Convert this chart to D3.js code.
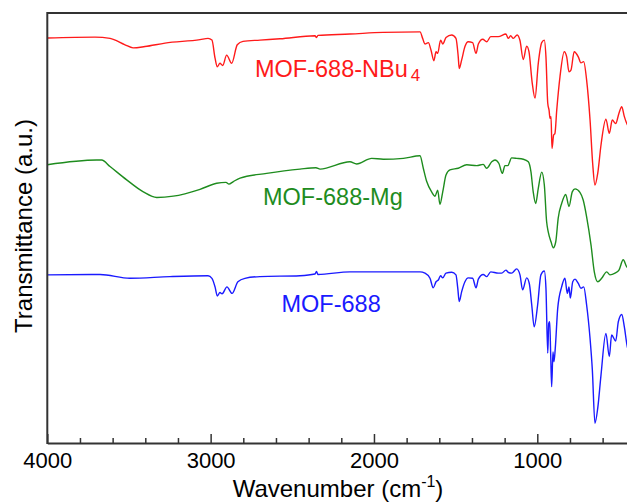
<!DOCTYPE html>
<html>
<head>
<meta charset="utf-8">
<script src="https://cdn.jsdelivr.net/npm/d3@7"></script>
<style>
  html, body { margin: 0; padding: 0; background: #fff; overflow: hidden; }
  svg { display: block; font-family: "Liberation Sans", Arial, Helvetica, sans-serif; }
</style>
</head>
<body>
<svg id="chart" width="627" height="502"></svg>
<script>
// ---- Data (wavenumber cm^-1, transmittance a.u. with vertical offsets) ----
const majorTicks = [4000, 3000, 2000, 1000];
const minorTicks = [3800, 3600, 3400, 3200, 2800, 2600, 2400, 2200, 1800, 1600, 1400, 1200, 800, 600];

const seriesNames = ["MOF-688-NBu4", "MOF-688-Mg", "MOF-688"];

const nbu4 = [
  [4000,94.2],[3708,94.4],[3616,94.1],[3524,92.6],[3475,91.9],[3402,92.2],[3279,93.0],[3065,93.8],
  [3016,94.1],[2992,93.7],[2973,89.5],[2959,87.5],[2943,88.3],[2926,87.8],[2902,90.2],[2871,88.3],
  [2837,92.6],[2802,93.4],[2698,93.7],[2575,94.0],[2361,94.7],[2352,94.3],[2343,94.8],[2147,95.1],
  [1945,95.5],[1718,95.6],[1702,94.1],[1688,92.8],[1667,93.1],[1651,91.4],[1633,88.9],[1620,91.0],
  [1610,90.6],[1592,93.7],[1579,92.8],[1559,94.3],[1524,94.9],[1498,94.1],[1484,89.8],[1478,87.1],
  [1463,89.1],[1443,92.2],[1423,93.3],[1396,93.1],[1375,90.6],[1361,92.8],[1334,93.9],[1310,93.3],
  [1285,94.5],[1239,94.5],[1192,95.1],[1178,94.1],[1163,94.7],[1147,94.1],[1123,94.9],[1106,93.6],
  [1086,89.2],[1065,92.3],[1051,91.0],[1031,83.7],[1014,80.2],[994,88.3],[973,93.1],[957,93.7],
  [947,89.8],[936,79.0],[928,77.4],[922,75.5],[916,75.9],[910,68.5],[900,71.6],[892,72.0],
  [881,77.4],[861,85.2],[835,91.0],[820,89.8],[806,86.3],[794,86.7],[774,91.0],[749,89.8],
  [733,88.4],[716,88.7],[698,84.4],[677,75.1],[661,65.0],[647,60.0],[630,62.7],[610,69.3],
  [580,75.3],[559,72.0],[541,75.1],[520,74.3],[500,76.7],[483,78.2],[467,75.9],[451,74.2],[440,73.5]
];

const mg = [
  [4000,64.7],[3698,65.8],[3667,65.8],[3616,64.3],[3514,61.2],[3412,58.4],[3330,57.1],[3229,57.4],
  [3065,59.0],[2963,60.4],[2906,60.6],[2888,60.2],[2861,60.8],[2820,61.6],[2657,62.7],[2453,63.7],
  [2355,64.0],[2330,63.7],[2147,65.4],[2106,64.9],[2014,66.2],[1943,66.0],[1820,66.2],[1718,66.8],
  [1698,63.9],[1677,60.8],[1647,58.4],[1626,57.4],[1610,58.8],[1596,55.5],[1579,58.4],[1559,62.3],
  [1535,63.5],[1484,63.9],[1432,64.7],[1371,64.5],[1331,64.8],[1310,63.9],[1279,65.4],[1259,65.8],
  [1235,65.0],[1214,62.7],[1198,64.5],[1181,64.5],[1157,66.3],[1126,66.2],[1086,66.0],[1055,65.4],
  [1039,63.1],[1025,58.4],[1010,55.7],[994,59.2],[973,63.0],[957,60.0],[943,51.5],[933,49.1],
  [916,46.8],[902,45.4],[887,46.8],[872,52.3],[851,55.7],[826,57.8],[806,55.0],[786,58.4],
  [769,59.1],[739,58.3],[719,56.5],[698,52.6],[671,46.0],[651,39.8],[630,37.5],[606,38.3],
  [575,39.8],[555,39.1],[524,39.5],[500,40.2],[474,42.6],[453,41.0],[440,40.5]
];

const mof = [
  [4000,39.1],[3677,39.2],[3494,38.3],[3249,38.7],[3016,38.9],[2992,38.3],[2973,36.3],[2959,34.2],
  [2943,35.0],[2930,34.7],[2900,36.3],[2869,34.8],[2833,37.5],[2790,38.3],[2698,38.7],[2453,38.9],
  [2361,39.3],[2352,39.9],[2343,39.2],[2147,39.8],[2014,39.8],[1902,39.8],[1718,39.8],[1688,39.5],
  [1657,38.3],[1637,36.1],[1620,37.5],[1606,37.9],[1592,38.9],[1579,38.4],[1559,39.5],[1524,39.7],
  [1498,39.1],[1487,36.0],[1478,32.9],[1463,35.2],[1443,37.5],[1423,38.4],[1396,38.3],[1375,36.1],
  [1361,38.1],[1331,39.2],[1310,38.7],[1285,39.8],[1239,39.5],[1218,39.5],[1192,40.2],[1178,39.7],
  [1157,39.5],[1126,40.5],[1106,39.1],[1090,35.6],[1065,38.4],[1049,37.1],[1034,32.1],[1019,27.0],
  [998,32.1],[978,39.1],[957,40.0],[947,36.0],[936,20.9],[930,27.8],[924,28.2],[918,20.5],
  [912,13.1],[904,21.2],[898,18.9],[890,22.0],[875,31.3],[851,36.3],[831,38.3],[816,34.8],
  [806,36.3],[798,33.7],[783,37.5],[769,38.1],[749,37.1],[733,36.0],[716,36.3],[698,32.1],
  [677,24.3],[663,17.0],[647,4.6],[630,8.1],[610,15.8],[580,25.5],[559,20.1],[545,25.1],
  [520,23.7],[504,28.2],[483,29.9],[467,27.0],[451,22.8],[440,21.0]
];

const seriesData = [nbu4, mg, mof];
const seriesColors = ["#ff1a1a", "#1e8c1e", "#1a1aff"];

// ---- Layout ----
const svg = d3.select("#chart");
const plotLeft = 47.3, plotTop = 13, plotBottom = 443;
const x = d3.scaleLinear().domain([4000, 400]).range([plotLeft, plotLeft + 3600 * 0.163333]);
const y = d3.scaleLinear().domain([0, 100]).range([plotBottom, plotTop]);

svg.append("defs").append("clipPath").attr("id", "plotclip")
  .append("rect").attr("x", plotLeft).attr("y", plotTop).attr("width", 700).attr("height", plotBottom - plotTop);

const line = d3.line().x(d => x(d[0])).y(d => y(d[1])).curve(d3.curveMonotoneX);

const g = svg.append("g").attr("clip-path", "url(#plotclip)");
seriesData.forEach((s, i) => {
  g.append("path").datum(s)
    .attr("d", line)
    .attr("fill", "none")
    .attr("stroke", seriesColors[i])
    .attr("stroke-width", 1.4)
    .attr("stroke-linejoin", "round");
});

// ---- Frame ----
const frameColor = "#333";
svg.append("line").attr("x1", plotLeft).attr("x2", plotLeft).attr("y1", plotTop - 1).attr("y2", plotBottom + 1)
  .attr("stroke", frameColor).attr("stroke-width", 2);
svg.append("line").attr("x1", plotLeft).attr("x2", 640).attr("y1", plotTop).attr("y2", plotTop)
  .attr("stroke", frameColor).attr("stroke-width", 2);

// ---- X axis ----
const xAxis = d3.axisBottom(x).tickValues(majorTicks).tickSizeInner(-9).tickSizeOuter(0)
  .tickPadding(9).tickFormat(d3.format("d"));
const ax = svg.append("g").attr("transform", `translate(0,${plotBottom})`).call(xAxis);
ax.select(".domain").attr("stroke", frameColor).attr("stroke-width", 2);
ax.selectAll(".tick line").attr("stroke", frameColor).attr("stroke-width", 1.5);
ax.selectAll(".tick text").attr("font-size", 22).attr("fill", "#000")
  .attr("font-family", "'Liberation Sans', Arial, sans-serif");

const xMinor = d3.axisBottom(x).tickValues(minorTicks).tickSizeInner(-5).tickSizeOuter(0).tickFormat("");
const axm = svg.append("g").attr("transform", `translate(0,${plotBottom})`).call(xMinor);
axm.select(".domain").remove();
axm.selectAll(".tick line").attr("stroke", frameColor).attr("stroke-width", 1.5);

// ---- Axis titles ----
const xt = svg.append("text").attr("x", 338).attr("y", 497).attr("text-anchor", "middle")
  .attr("font-size", 24).attr("fill", "#000");
xt.append("tspan").text("Wavenumber (cm");
xt.append("tspan").text("-1").attr("font-size", 16).attr("dy", -10);
xt.append("tspan").text(")").attr("dy", 10);

svg.append("text").attr("transform", "translate(32,226) rotate(-90)")
  .attr("text-anchor", "middle").attr("font-size", 24).attr("fill", "#000")
  .text("Transmittance (a.u.)");

// ---- Series labels ----
const l1 = svg.append("text").attr("x", 255).attr("y", 76.5).attr("font-size", 23.5).attr("fill", seriesColors[0]);
l1.append("tspan").text("MOF-688-NBu");
l1.append("tspan").text("4").attr("font-size", 17).attr("dx", 3).attr("dy", 4);

svg.append("text").attr("x", 263).attr("y", 205).attr("font-size", 23.5).attr("fill", seriesColors[1])
  .text(seriesNames[1]);
svg.append("text").attr("x", 281.5).attr("y", 311.5).attr("font-size", 23.5).attr("fill", seriesColors[2])
  .text(seriesNames[2]);
</script>
</body>
</html>
